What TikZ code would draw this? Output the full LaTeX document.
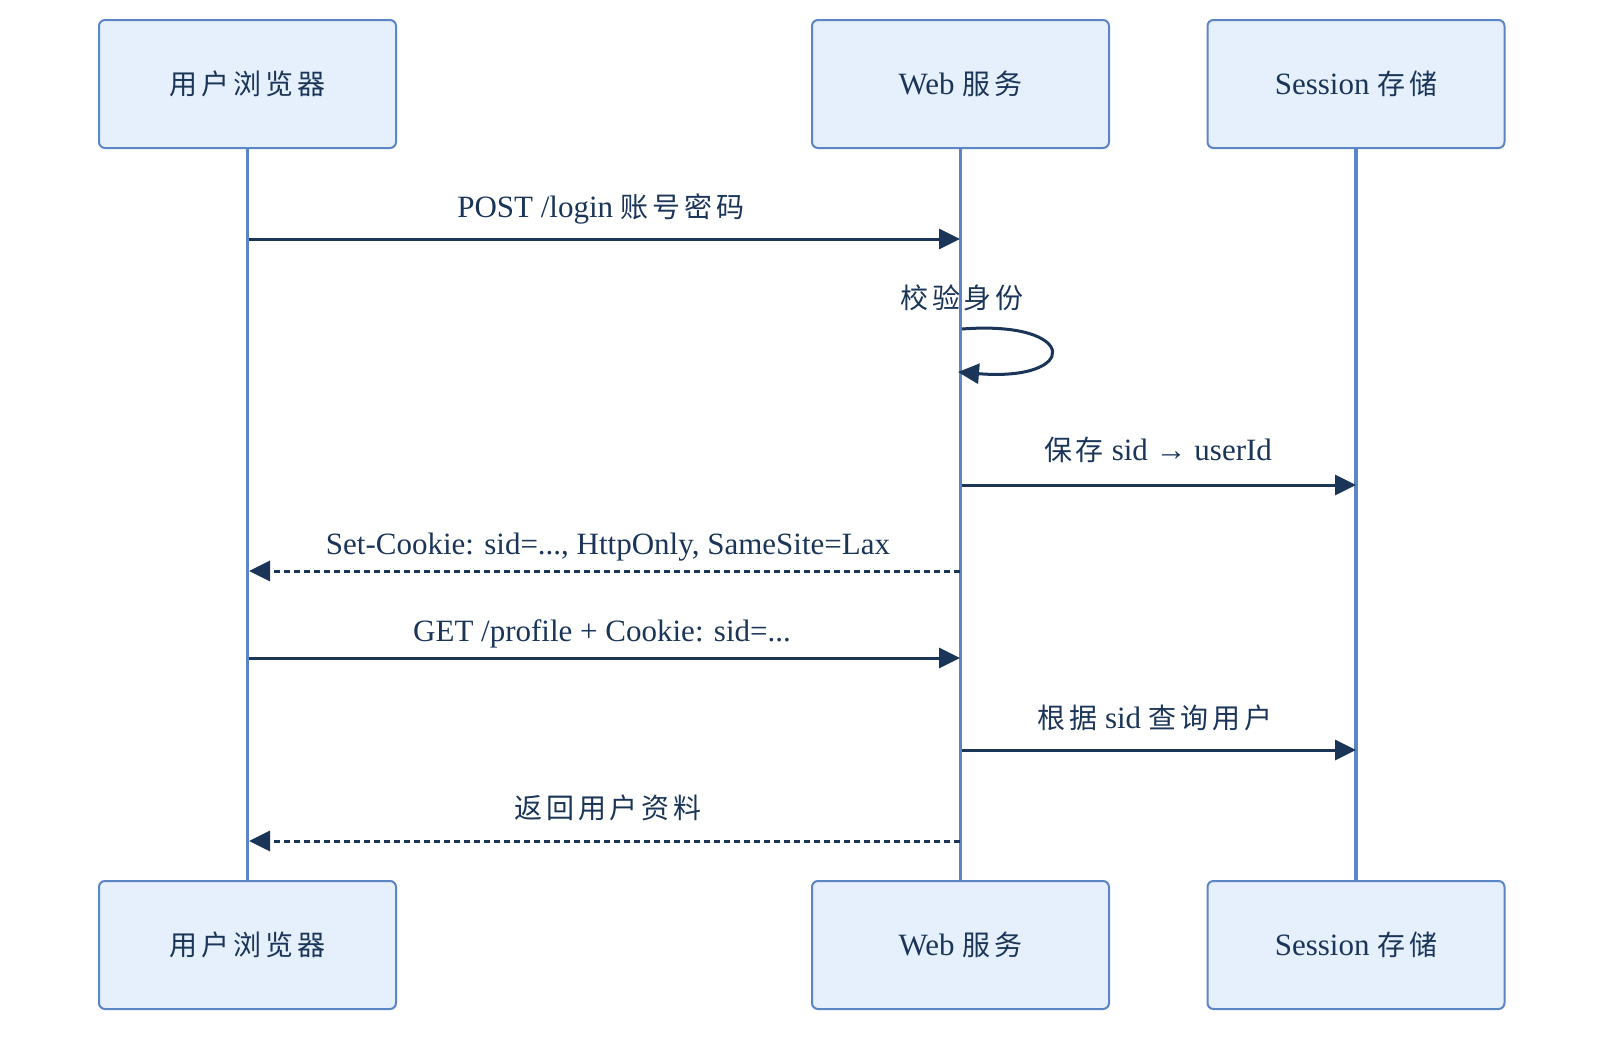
\documentclass[tikz,border=0pt]{standalone}
\usepackage{fontspec}
\setmainfont{Liberation Serif}
\newfontfamily\cjk[LetterSpace=14]{Noto Sans CJK SC}
\usetikzlibrary{arrows.meta}
\definecolor{boxfill}{HTML}{E6F0FD}
\definecolor{boxline}{HTML}{5B85C4}
\definecolor{ink}{HTML}{1A3558}
\tikzset{
  actor/.style={draw=boxline, fill=boxfill, line width=2pt, rounded corners=6pt, minimum width=297pt, minimum height=128pt, text=ink, font=\fontsize{31}{35}\selectfont, inner sep=0pt},
  life/.style={draw=boxline, line width=3.5pt},
  msg/.style={draw=ink, line width=3pt, -{Triangle[length=21pt,width=20pt]}},
  reply/.style={msg, dash pattern=on 6pt off 4pt},
  lbl/.style={text=ink, font=\fontsize{31}{35}\selectfont, inner sep=0pt}
}
\newcommand{\zh}[1]{{\cjk\fontsize{28}{32}\selectfont #1}}
\begin{document}
\begin{tikzpicture}[x=1pt,y=-1pt]
\useasboundingbox (0,0) rectangle (1620,1042);
% top actors
\node[actor] (b1) at (247.5,84) {\zh{用户浏览器}};
\node[actor] (w1) at (960.5,84) {Web \zh{服务}};
\node[actor] (s1) at (1356,84) {Session \zh{存储}};
% bottom actors
\node[actor] (b2) at (247.5,945) {\zh{用户浏览器}};
\node[actor] (w2) at (960.5,945) {Web \zh{服务}};
\node[actor] (s2) at (1356,945) {Session \zh{存储}};
% lifelines
\draw[life] (b1.south) -- (b2.north);
\draw[life] (w1.south) -- (w2.north);
\draw[life] (s1.south) -- (s2.north);
% anchor coordinates on lifelines
\coordinate (bA) at (249,239);  \coordinate (wA) at (960,239);
\coordinate (wL1) at (962,329); \coordinate (wL2) at (958,372);
\coordinate (wB) at (962,485);  \coordinate (sB) at (1356,485);
\coordinate (wC) at (960,571);  \coordinate (bC) at (249,571);
\coordinate (bD) at (249,658);  \coordinate (wD) at (960,658);
\coordinate (wE) at (962,750);  \coordinate (sE) at (1356,750);
\coordinate (wF) at (960,841);  \coordinate (bF) at (249,841);
% messages
\draw[msg] (bA) -- (wA);
\node[lbl] (l1) at (601,209) {POST /login \zh{账号密码}};
\draw[msg] (wL1) .. controls (1080,320) and (1080,382) .. (wL2);
\node[lbl] (l2) at (962,298) {\zh{校验身份}};
\draw[msg] (wB) -- (sB);
\node[lbl] (l3) at (1158,450) {\zh{保存} sid → userId};
\draw[reply] (wC) -- (bC);
\node[lbl] (l4) at (608,547) {Set-Cookie: sid=..., HttpOnly, SameSite=Lax};
\draw[msg] (bD) -- (wD);
\node[lbl] (l5) at (602,634) {GET /profile + Cookie: sid=...};
\draw[msg] (wE) -- (sE);
\node[lbl] (l6) at (1155,718) {\zh{根据} sid \zh{查询用户}};
\draw[reply] (wF) -- (bF);
\node[lbl] (l7) at (608,808) {\zh{返回用户资料}};
\end{tikzpicture}
\end{document}
